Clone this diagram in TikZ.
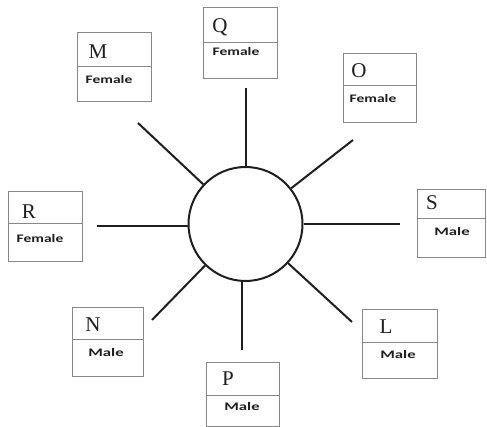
\documentclass[tikz,border=0pt]{standalone}
\usepackage{fontspec}
\setmainfont{Liberation Serif}
\newfontfamily\lab{Carlito}
\definecolor{boxgray}{RGB}{135,135,135}
\definecolor{ink}{RGB}{30,30,30}
\tikzset{
  box/.style={draw=boxgray, line width=1pt, fill=white, inner sep=0pt},
  divider/.style={draw=boxgray, line width=1pt},
  letter/.style={inner sep=0pt, text=ink, font=\fontsize{21}{21}\selectfont},
  gender/.style={inner sep=0pt, text=ink, font=\lab\bfseries\fontsize{11.5}{12}\selectfont},
  spoke/.style={draw=ink, line width=2pt},
  hub/.style={circle, draw=ink, line width=2pt, minimum size=114pt, inner sep=0pt}
}
\newcommand{\genderbox}[6]{% name, x1, y1, x2, y2, ydiv
  \node[box, minimum width={#4-#2}, minimum height={#5-#3}] (#1) at ({(#2+#4)/2},{(#3+#5)/2}) {};
  \draw[divider] (#1.west |- 0,#6) -- (#1.east |- 0,#6);
}
\begin{document}
\begin{tikzpicture}[x=1pt,y=-1pt]
\useasboundingbox (0,0) rectangle (487,427);

% hub
\node[hub] (C) at (245.5,224) {};

% boxes
\genderbox{M}{77}{33}{151}{102}{67}
\genderbox{Q}{203}{8}{277}{79}{43}
\genderbox{O}{343}{54}{416}{123}{86}
\genderbox{R}{8}{192}{82}{262}{224}
\genderbox{S}{417}{190}{485}{258}{219}
\genderbox{N}{72}{308}{143}{376}{340}
\genderbox{L}{362}{310}{437}{378}{343}
\genderbox{P}{206}{362}{279}{426}{395}

% letters
\node[letter] (tM) at (98,52) {M};
\node[letter] (tQ) at (220,27) {Q};
\node[letter] (tO) at (359,71) {O};
\node[letter] (tR) at (29,212) {R};
\node[letter] (tS) at (432,203) {S};
\node[letter] (tN) at (93,325) {N};
\node[letter] (tL) at (386,327) {L};
\node[letter] (tP) at (228,379) {P};

% genders
\node[gender] (gM) at (109,80) {\scalebox{1.35}[1]{Female}};
\node[gender] (gQ) at (236,52) {\scalebox{1.35}[1]{Female}};
\node[gender] (gO) at (373,99) {\scalebox{1.35}[1]{Female}};
\node[gender] (gR) at (40,239) {\scalebox{1.35}[1]{Female}};
\node[gender] (gS) at (452,232) {\scalebox{1.45}[1]{Male}};
\node[gender] (gN) at (106,353) {\scalebox{1.45}[1]{Male}};
\node[gender] (gL) at (398,355) {\scalebox{1.45}[1]{Male}};
\node[gender] (gP) at (242,407) {\scalebox{1.45}[1]{Male}};

% spoke ends
\coordinate (eQ) at (245.5,88);
\coordinate (eM) at (138,123);
\coordinate (eO) at (353,140);
\coordinate (eR) at (97,226);
\coordinate (eS) at (400,224);
\coordinate (eN) at (152,320);
\coordinate (eP) at (242,350);
\coordinate (eL) at (352,322);

\draw[spoke] (C.north) -- (eQ);
\draw[spoke] (eP |- C.south) -- (eP);
\draw[spoke] (C.west |- eR) -- (eR);
\draw[spoke] (C.east |- eS) -- (eS);
\foreach \e in {eM,eO,eN,eL}
  \draw[spoke] (C) -- (\e);
\end{tikzpicture}
\end{document}
